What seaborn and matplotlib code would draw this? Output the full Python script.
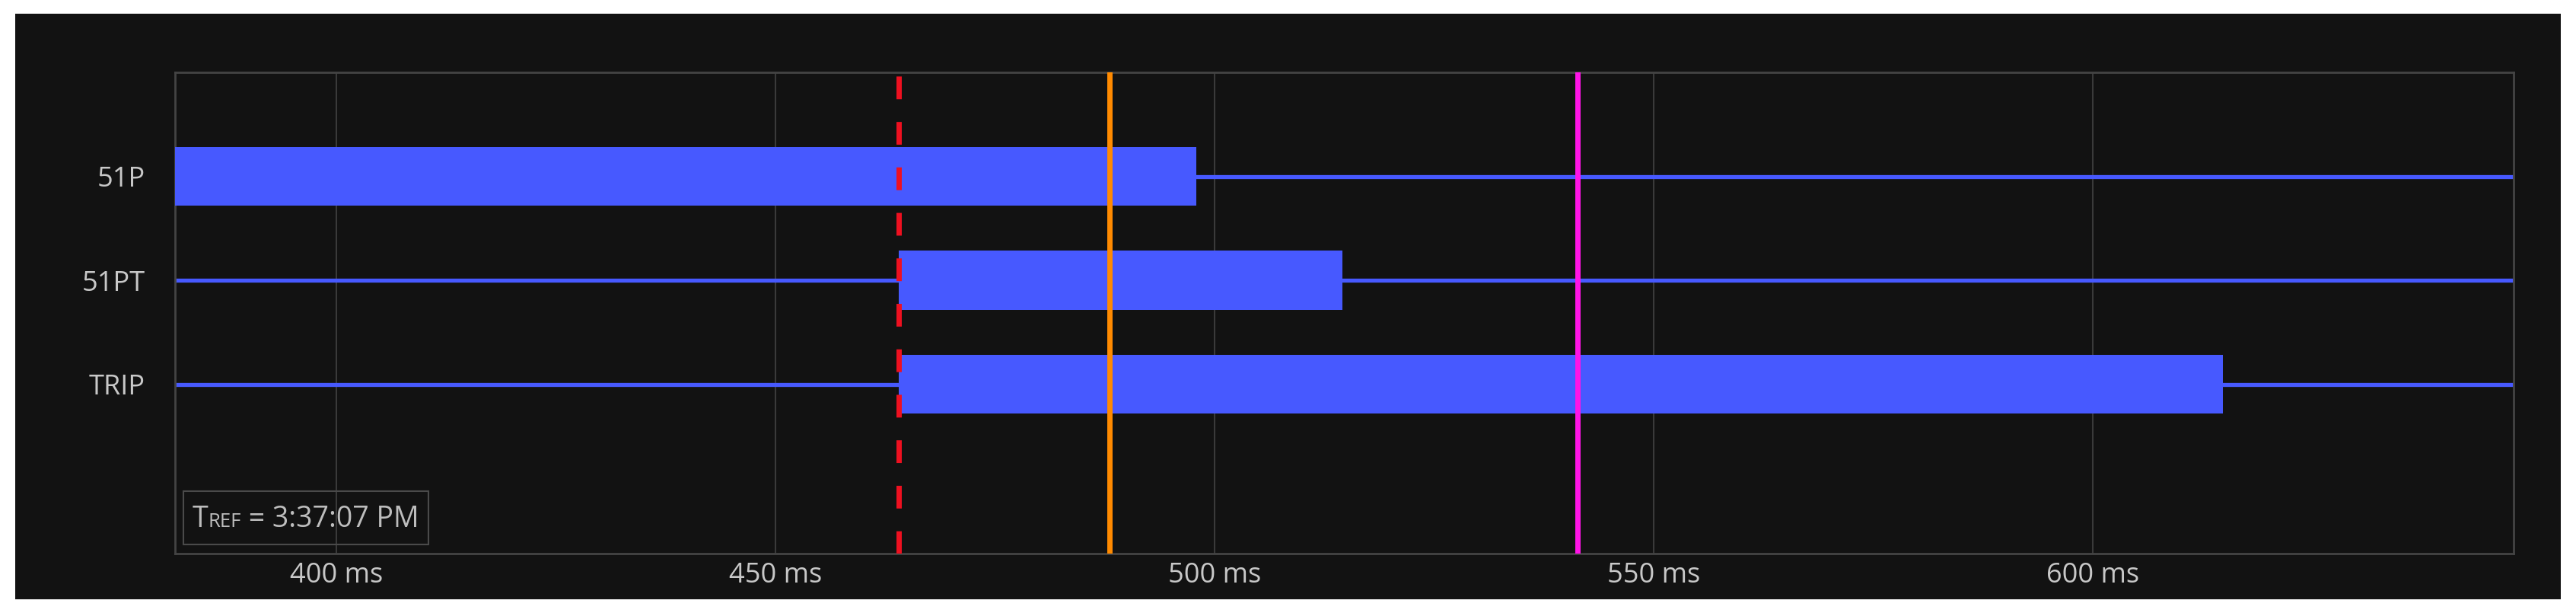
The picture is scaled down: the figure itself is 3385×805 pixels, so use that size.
import pandas as pd
import matplotlib.pyplot as plt
from matplotlib.patches import Rectangle
import seaborn as sns

# Signal timing (ms relative to TREF)
signals = ["51P", "51PT", "TRIP"]
starts = [381.6, 464.0, 464.0]
ends = [497.9, 514.5, 614.8]

# Cursor / event markers
event_times = [464.0, 488.0, 541.3]
event_colors = ["#ee1020", "#ff8a00", "#ff14e6"]
event_styles = ["--", "-", "-"]

tick_values = [400, 450, 500, 550, 600]
tick_labels = ["400 ms", "450 ms", "500 ms", "550 ms", "600 ms"]
x_range = [381.6, 647.9]
tref_time = "3:37:07 PM"

BG = "#121212"
BLUE = "#4759ff"
TEXT = "#c8c8c8"
GRID = "#3a3a3a"

df = pd.DataFrame({"signal": signals, "start": starts, "end": ends})
df["duration"] = df["end"] - df["start"]

sns.set_theme(style="dark")
plt.rcParams["font.family"] = ["Open Sans", "DejaVu Sans"]

W, H = 3385, 805
fig = plt.figure(figsize=(W / 100, H / 100), dpi=100, facecolor="white")
fig.add_artist(Rectangle((20 / W, 18 / H), 3345 / W, 769 / H, transform=fig.transFigure,
                         facecolor=BG, edgecolor="none", zorder=-5))

ax = fig.add_axes([230 / W, 78 / H, 3073 / W, 632 / H])
ax.set_facecolor(BG)

# floating bars for the asserted intervals
sns.barplot(data=df, x="duration", y="signal", left=df["start"], orient="y",
            color=BLUE, saturation=1, width=0.57, linewidth=0, ax=ax, zorder=3)

# thin baseline for each signal
rows = list(range(len(signals)))
ax.hlines(rows, x_range[0], x_range[1], color=BLUE, lw=3.8, zorder=2)

for t, c, ls in zip(event_times, event_colors, event_styles):
    if ls == "--":
        ax.axvline(t, color=c, lw=5, dashes=(4.3, 4.3), zorder=4)
    else:
        ax.axvline(t, color=c, lw=5, zorder=4)

ax.set_xlim(x_range)
ax.set_ylim(3.63, -1)
ax.set_xticks(tick_values, tick_labels)
ax.set_xlabel("")
ax.set_ylabel("")
ax.grid(axis="x", color=GRID, lw=1.5)
ax.grid(axis="y", visible=False)
ax.set_axisbelow(True)
ax.tick_params(axis="x", length=0, labelsize=26, colors=TEXT, pad=8)
ax.tick_params(axis="y", length=0, labelsize=26, colors=TEXT, pad=28)
for s in ax.spines.values():
    s.set_visible(True)
    s.set_color("#444444")
    s.set_linewidth(2)

# TREF box
ax.add_patch(Rectangle((11 / 3073, 12 / 632), 322 / 3073, 70 / 632, transform=ax.transAxes,
                       facecolor="none", edgecolor="#4a4a4a", lw=1.5, zorder=5))
t1 = ax.text(23 / 3073, 35 / 632, "T", transform=ax.transAxes, fontsize=27,
             color="#bdbdbd", va="baseline", zorder=6)
fig.canvas.draw()
r = fig.canvas.get_renderer()
inv = ax.transAxes.inverted()
x1 = inv.transform((t1.get_window_extent(r).x1, 0))[0]
t2 = ax.text(x1, 35 / 632, "REF", transform=ax.transAxes, fontsize=18.5,
             color="#bdbdbd", va="baseline", zorder=6)
fig.canvas.draw()
x2 = inv.transform((t2.get_window_extent(r).x1, 0))[0]
ax.text(x2, 35 / 632, " = " + tref_time, transform=ax.transAxes, fontsize=27,
        color="#bdbdbd", va="baseline", zorder=6)

fig.savefig("out.png", dpi=100, facecolor="white")
